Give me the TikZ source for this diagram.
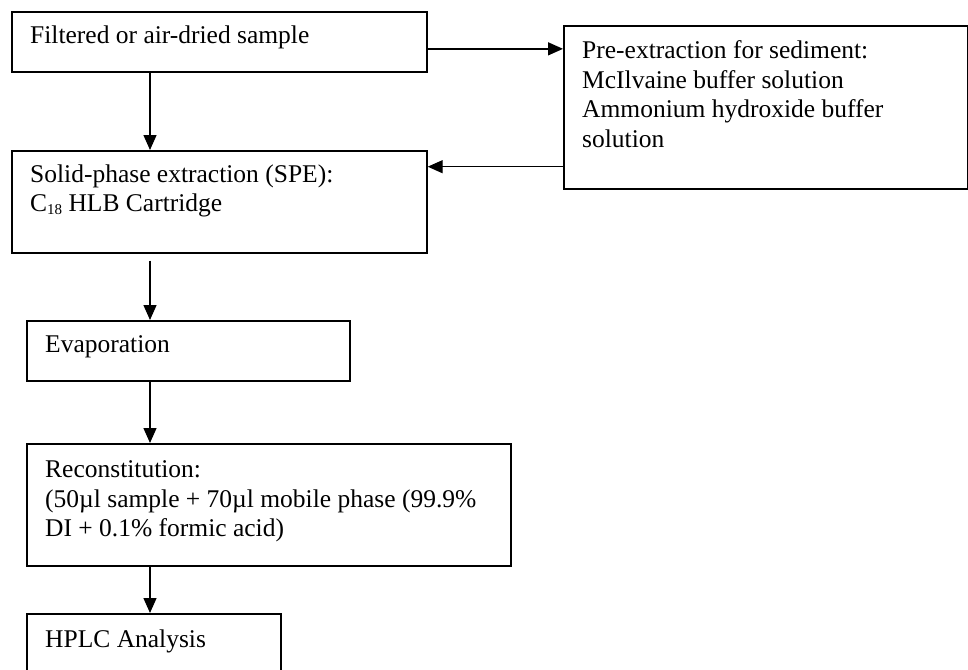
\documentclass[tikz,border=0pt]{standalone}
\usepackage{fontspec}
\setmainfont{Liberation Serif}
\usetikzlibrary{arrows.meta}
\newcommand{\subsmall}[1]{\raisebox{-0.25ex}{\fontsize{15}{15}\selectfont #1}}
\begin{document}
\begin{tikzpicture}[x=1pt,y=-1pt,
  stepbox/.style={draw, line width=1.7pt, rectangle, inner sep=0pt, anchor=north west},
  txt/.style={anchor=north west, inner sep=0pt, align=left,
              font=\fontsize{25.5}{29.5}\selectfont},
  flow/.style={line width=1.4pt, -{Triangle[length=15pt,width=13pt]}}]
\clip (0,0) rectangle (968,669);
\useasboundingbox (0,0) rectangle (968,669);

% process boxes
\node[stepbox, minimum width=415pt, minimum height=60pt]  (b1) at (11,11)  {};
\node[stepbox, minimum width=404pt, minimum height=163pt] (b2) at (563,25) {};
\node[stepbox, minimum width=415pt, minimum height=102pt] (b3) at (11,150) {};
\node[stepbox, minimum width=323pt, minimum height=60pt]  (ev) at (26,320) {};
\node[stepbox, minimum width=484pt, minimum height=122pt] (rc) at (26,443) {};
\node[stepbox, minimum width=254pt, minimum height=80pt]  (hp) at (26,613) {};

% box texts
\node[txt] (t1) at (30,25.5) {Filtered or air-dried sample};
\node[txt] (t2) at (582,40.5) {Pre-extraction for sediment:\\
  McIlvaine buffer solution\\ Ammonium hydroxide buffer\\ solution};
\node[txt] (t3) at (30,164.5) {Solid-phase extraction (SPE):\\
  C\subsmall{18} HLB Cartridge};
\node[txt] (t4) at (45,335.5) {Evaporation};
\node[txt] (t5) at (45,460.5) {Reconstitution:\\
  (50µl sample + 70µl mobile phase (99.9\%\\ DI + 0.1\% formic acid)};
\node[txt] (t6) at (45,629.5) {HPLC Analysis};

% connectors
\draw[flow] ([yshift=-7pt]b1.east) -- ([yshift=-7pt]b1.east -| b2.west);
\draw[flow] ([yshift=23pt]b2.south west) -- ([yshift=23pt]b2.south west -| b3.east);
\draw[flow] ([xshift=139pt]b1.south west) -- ([xshift=139pt]b1.south west |- b3.north);
\coordinate (c3) at ([xshift=139pt,yshift=-7pt]b3.south west);
\draw[flow] (c3) -- (c3 |- ev.north);
\draw[flow] ([xshift=124pt]ev.south west) -- ([xshift=124pt]ev.south west |- rc.north);
\draw[flow] ([xshift=124pt]rc.south west) -- ([xshift=124pt]rc.south west |- hp.north);
\end{tikzpicture}
\end{document}
